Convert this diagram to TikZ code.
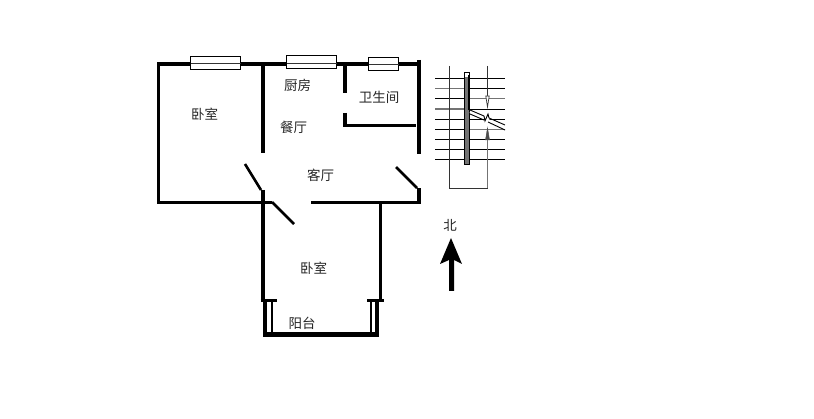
\documentclass[tikz,border=0pt]{standalone}
\usepackage{fontspec}
\newfontfamily\cjk{Noto Sans CJK SC}[Scale=1]
\tikzset{
  wall/.style={line width=3.4pt,draw=black,line cap=butt},
  doorleaf/.style={line width=2.6pt,draw=black,line cap=butt},
  win/.style={draw=black,line width=0.8pt,fill=white},
  tread/.style={line width=0.9pt,draw=black},
  treadg/.style={line width=1.3pt,draw=black!55},
  thin/.style={line width=0.9pt,draw=black!80},
  room/.style={font=\cjk\fontsize{13.5}{14}\selectfont,inner sep=0pt,text=black!85}
}
\begin{document}
\begin{tikzpicture}[x=1pt,y=-1pt]
\useasboundingbox (0,0) rectangle (814,419);
\fill[white] (0,0) rectangle (814,419);
% walls
\draw[wall] (263,153) -- (263,64);
\draw[wall,line join=miter] (272,202.5) -- (158.5,202.5) -- (158.5,64) -- (419,64);
\draw[wall] (263,190) -- (263,302);
\draw[wall] (345,64) -- (345,93);
\draw[wall,line join=miter] (345,113) -- (345,125.5) -- (416,125.5);
\draw[wall] (419,60) -- (419,154);
\draw[wall,line join=miter] (311,202.5) -- (419,202.5) -- (419,188);
\draw[wall] (380.5,202) -- (380.5,302);
% doors
\draw[doorleaf] (245,164) -- (261,190);
\draw[doorleaf] (272,202) -- (294,224);
\draw[doorleaf] (396,167) -- (417,188);
% windows
\draw[win] (190.5,56) rectangle (240.5,69);
\draw[thin] (190.5,63.5) -- (240.5,63.5);
\draw[win] (286.5,55.5) rectangle (336.5,68);
\draw[thin] (286.5,63) -- (336.5,63);
\draw[win] (368.5,57.5) rectangle (398.5,70);
\draw[thin] (368.5,64) -- (398.5,64);
% balcony
\draw[wall,line width=2.6pt] (260.5,300.5) -- (277,300.5);
\draw[wall,line width=2.6pt] (367,300.5) -- (383.5,300.5);
\draw[wall,line width=3.2pt,line join=miter] (265,300) -- (265,335) -- (377,335) -- (377,300);
\draw[wall,line width=4.5pt] (265,334.5) -- (377,334.5);
\draw[wall,line width=2pt] (272,300) -- (272,334);
\draw[wall,line width=2pt] (371,300) -- (371,334);
% stairs
\foreach \y in {78.5,119.5,139.5,149.5,159.5}
  \draw[tread] (435,\y) -- (505,\y);
\draw[tread] (470,88.5) -- (505,88.5);
\draw[treadg] (435,88.5) -- (465,88.5);
\draw[treadg] (435,109) -- (465,109);
\draw[tread] (435,98.5) -- (465,98.5);
\draw[treadg] (470,98.5) -- (505,98.5);
\draw[tread] (470,109) -- (505,109);
\draw[tread] (435,129.5) -- (465,129.5);
\draw[treadg] (470,129.5) -- (505,129.5);
\draw[thin] (449.5,66) -- (449.5,188.5) -- (487.5,188.5) -- (487.5,131);
\draw[thin] (487.5,66) -- (487.5,96);
\draw[draw=black!80,line width=0.7pt,fill=white] (485.8,96) -- (489.2,96) -- (487.5,107) -- cycle;
\draw[draw=black!70,fill=black!70,line width=0.5pt] (485.5,140) -- (489.5,140) -- (487.5,128) -- cycle;
\draw[treadg] (487.5,140) -- (487.5,188);
\draw[draw=black,line width=1pt,fill=white] (464.5,72.5) rectangle (469.5,165);
\fill[black!55] (465.2,77) rectangle (468.8,164);
\fill[black] (467.5,75) rectangle (469.5,110);
\draw[tread,white,line width=2pt] (470,112) -- (505,127.5);
\draw[tread] (470,110) -- (484,116) -- (485,121) -- (488,114) -- (489,118) -- (505,125);
\draw[tread] (470,114) -- (484,120);
\draw[tread] (488,122) -- (505,130);
% north arrow
\fill[black] (451,238) -- (462,264) -- (454,260) -- (454,291) -- (449,291) -- (449,260) -- (440,264) -- cycle;
% labels
\node[room] (r1) at (204.5,114.5) {\cjk 卧室};
\node[room] (r2) at (297.5,85.5) {\cjk 厨房};
\node[room] (r3) at (293.5,127) {\cjk 餐厅};
\node[room] (r4) at (379,97.5) {\cjk 卫生间};
\node[room] (r5) at (320.5,175.5) {\cjk 客厅};
\node[room] (r6) at (313.5,268) {\cjk 卧室};
\node[room] (r7) at (302,323.5) {\cjk 阳台};
\node[room] (r8) at (450,225) {\cjk 北};
\end{tikzpicture}
\end{document}
